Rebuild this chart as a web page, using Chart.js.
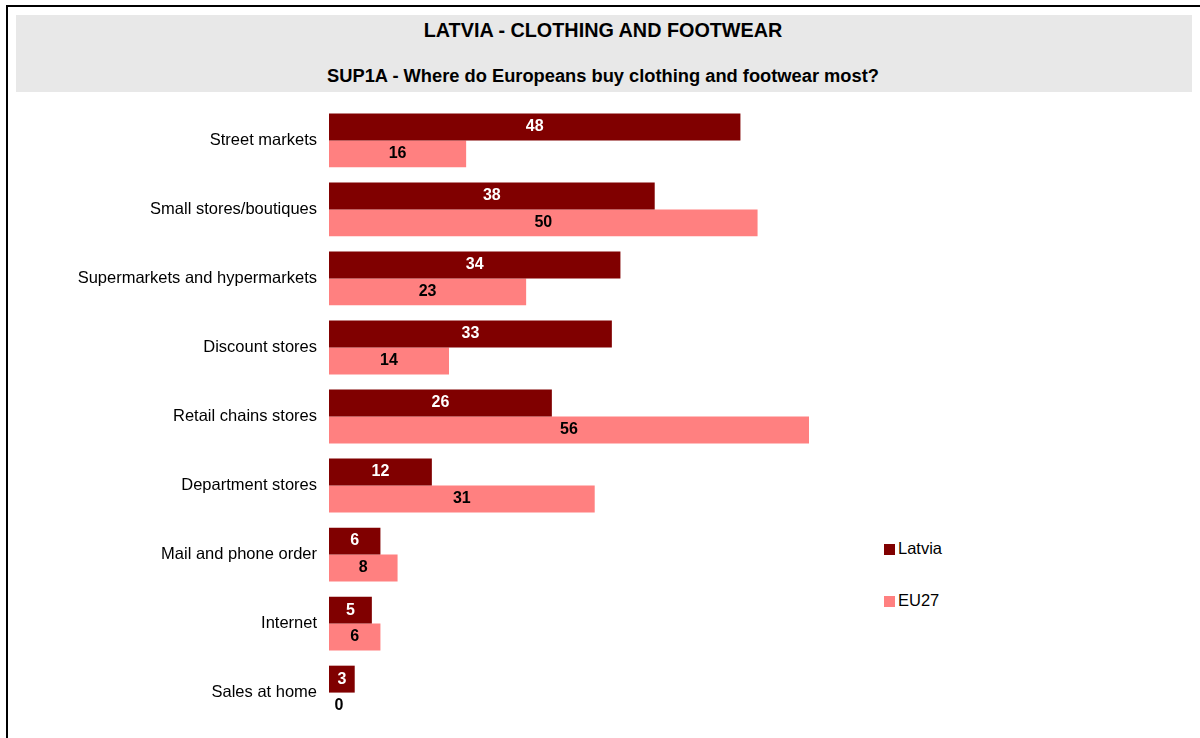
<!DOCTYPE html>
<html>
<head>
<meta charset="utf-8">
<script src="https://cdn.jsdelivr.net/npm/chart.js@4"></script>
<style>
  body { margin: 0; width: 1200px; height: 738px; overflow: hidden; background: #fff; font-family: Arial, "Liberation Sans", sans-serif; position: relative; }
  #frame { position: absolute; left: 6px; top: 5px; width: 1200px; height: 740px; border-left: 2px solid #000; border-top: 2px solid #000; }
  #header { position: absolute; left: 16px; top: 15px; width: 1176px; height: 77px; background: #e8e8e8; }
  #title { position: absolute; left: 0; width: 1206px; top: 19px; text-align: center; font-weight: bold; font-size: 19.8px; color: #000; }
  #subtitle { position: absolute; left: 0; width: 1206px; top: 65px; text-align: center; font-weight: bold; font-size: 18.3px; color: #000; }
  #wrap { position: absolute; left: 0; top: 84px; width: 869px; height: 665px; }
  .leg { position: absolute; left: 884px; font-size: 16.5px; color: #000; }
  .leg span { display: inline-block; width: 11px; height: 11px; margin-right: 3px; vertical-align: -1px; }
</style>
</head>
<body>
<div id="frame"></div>
<div id="header"></div>
<div id="title">LATVIA - CLOTHING AND FOOTWEAR</div>
<div id="subtitle">SUP1A - Where do Europeans buy clothing and footwear most?</div>
<div id="wrap"><canvas id="chart"></canvas></div>
<div class="leg" style="top:539px"><span style="background:#800000"></span>Latvia</div>
<div class="leg" style="top:591px"><span style="background:#FF8080"></span>EU27</div>
<script>
const categories = ["Street markets", "Small stores/boutiques", "Supermarkets and hypermarkets", "Discount stores", "Retail chains stores", "Department stores", "Mail and phone order", "Internet", "Sales at home"];
const latvia = [48, 38, 34, 33, 26, 12, 6, 5, 3];
const eu27 = [16, 50, 23, 14, 56, 31, 8, 6, 0];
const seriesNames = ["Latvia", "EU27"];
const seriesColors = ["#800000", "#FF8080"];
const labelColors = ["#ffffff", "#000000"];

const valueLabels = {
  id: "valueLabels",
  afterDatasetsDraw(chart) {
    const ctx = chart.ctx;
    ctx.save();
    ctx.font = "bold 16px Arial, 'Liberation Sans', sans-serif";
    ctx.textAlign = "center";
    ctx.textBaseline = "middle";
    chart.data.datasets.forEach((ds, i) => {
      const meta = chart.getDatasetMeta(i);
      meta.data.forEach((bar, j) => {
        const v = ds.data[j];
        let x = (bar.x + bar.base) / 2;
        if (v === 0) x = bar.base + 10;
        ctx.fillStyle = v === 0 ? "#000000" : labelColors[i];
        ctx.fillText(String(v), x, bar.y);
      });
    });
    ctx.restore();
  }
};

const ctx = document.getElementById("chart").getContext("2d");
new Chart(ctx, {
  type: "bar",
  data: {
    labels: categories,
    datasets: [
      { label: seriesNames[0], data: latvia, backgroundColor: seriesColors[0] },
      { label: seriesNames[1], data: eu27, backgroundColor: seriesColors[1] }
    ]
  },
  options: {
    indexAxis: "y",
    responsive: true,
    maintainAspectRatio: false,
    animation: false,
    datasets: { bar: { barPercentage: 1, categoryPercentage: 0.78 } },
    layout: { padding: { top: 5.5, bottom: 10.4, left: 0, right: 0 } },
    scales: {
      x: { display: false, min: 0, max: 63 },
      y: {
        grid: { display: false, drawTicks: false },
        border: { display: false },
        ticks: { color: "#000", font: { size: 16.5, family: "Arial, 'Liberation Sans', sans-serif" }, padding: 12 },
        afterFit(scale) { scale.width = 329; }
      }
    },
    plugins: { legend: { display: false }, tooltip: { enabled: false } }
  },
  plugins: [valueLabels]
});
</script>
</body>
</html>
